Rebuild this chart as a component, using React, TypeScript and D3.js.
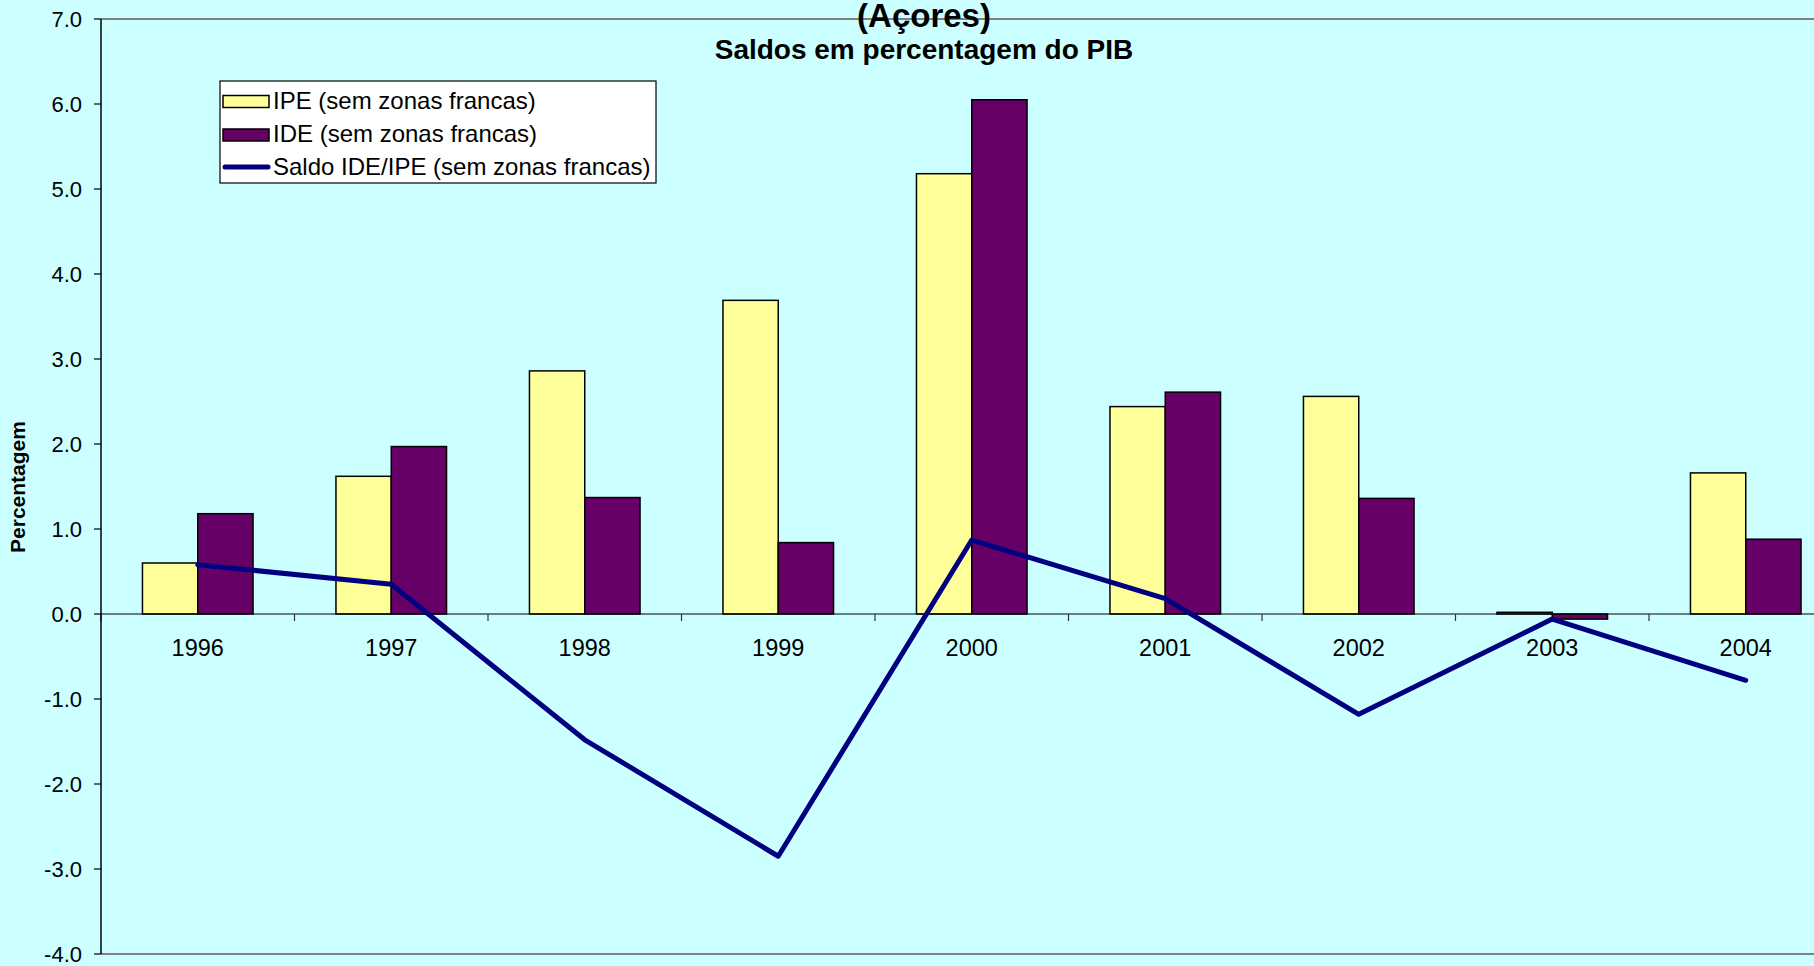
import React from "react";
import * as d3 from "d3";

const years = ["1996", "1997", "1998", "1999", "2000", "2001", "2002", "2003", "2004"];
const ipe = [0.6, 1.62, 2.86, 3.69, 5.18, 2.44, 2.56, 0.02, 1.66];
const ide = [1.18, 1.97, 1.37, 0.84, 6.05, 2.61, 1.36, -0.06, 0.88];
const saldo = [0.58, 0.35, -1.48, -2.85, 0.87, 0.18, -1.18, -0.06, -0.78];
const yTicks = [7, 6, 5, 4, 3, 2, 1, 0, -1, -2, -3, -4];
const seriesNames = ["IPE (sem zonas francas)", "IDE (sem zonas francas)", "Saldo IDE/IPE (sem zonas francas)"];
const titleLine = "(Açores)";
const subtitle = "Saldos em percentagem do PIB";
const yTitle = "Percentagem";

const W = 1814;
const H = 966;
const BG = "#CCFFFF";
const C_IPE = "#FFFF99";
const C_IDE = "#660066";
const C_LINE = "#000080";
const FONT = "'Liberation Sans', Arial, sans-serif";

export default function App() {
  const left = 101;
  const catW = 193.5;
  const x = d3.scaleBand<string>().domain(years).range([left, left + catW * years.length]).padding(0);
  const inner = d3
    .scaleBand<string>()
    .domain(["ipe", "ide"])
    .range([0, x.bandwidth()])
    .paddingInner(0)
    .paddingOuter(0.75);
  const y = d3.scaleLinear().domain([-4, 7]).range([954, 19]);
  const y0 = y(0);

  const line = d3
    .line<number>()
    .x((_, i) => (x(years[i]) as number) + x.bandwidth() / 2)
    .y((d) => y(d));

  const bar = (v: number, i: number, key: string, fill: string) => {
    const bx = (x(years[i]) as number) + (inner(key) as number);
    const top = Math.min(y(v), y0);
    const h = Math.abs(y(v) - y0);
    return (
      <rect
        key={key + i}
        x={bx}
        y={top}
        width={inner.bandwidth()}
        height={Math.max(h, 0.5)}
        fill={fill}
        stroke="#000"
        strokeWidth={1.5}
      />
    );
  };

  const right = left + catW * years.length;
  const rowY = [108.5, 142, 175];

  return (
    <div style={{ position: "absolute", left: 0, top: 0 }}>
      <svg width={W} height={H} style={{ display: "block" }} fontFamily={FONT}>
        <rect x={0} y={0} width={W} height={H} fill={BG} />
        {/* plot area border */}
        <line x1={left} x2={right} y1={y(7)} y2={y(7)} stroke="#808080" strokeWidth={2} />
        <line x1={left} x2={right} y1={y(-4)} y2={y(-4)} stroke="#808080" strokeWidth={2} />

        {/* bars */}
        {ipe.map((v, i) => bar(v, i, "ipe", C_IPE))}
        {ide.map((v, i) => bar(v, i, "ide", C_IDE))}

        {/* x axis at zero */}
        <line x1={left} x2={right} y1={y0} y2={y0} stroke="#000" strokeWidth={1.2} />
        {years.map((yr, i) => (
          <line
            key={"xt" + i}
            x1={x(yr) as number}
            x2={x(yr) as number}
            y1={y0}
            y2={y0 + 7}
            stroke="#333"
            strokeWidth={1.2}
          />
        ))}
        <line x1={right} x2={right} y1={y0} y2={y0 + 7} stroke="#333" strokeWidth={1.2} />
        {years.map((yr) => (
          <text
            key={"xl" + yr}
            x={(x(yr) as number) + x.bandwidth() / 2}
            y={656}
            textAnchor="middle"
            fontSize={23.5}
            fill="#000"
          >
            {yr}
          </text>
        ))}

        {/* y axis */}
        <line x1={left} x2={left} y1={y(7)} y2={y(-4)} stroke="#000" strokeWidth={1.5} />
        {yTicks.map((t) => (
          <g key={"yt" + t}>
            <line x1={left - 7} x2={left} y1={y(t)} y2={y(t)} stroke="#000" strokeWidth={1.2} />
            <text x={82} y={y(t) + 8} textAnchor="end" fontSize={22} fill="#000">
              {t.toFixed(1)}
            </text>
          </g>
        ))}
        <text
          transform={`translate(25,487) rotate(-90)`}
          textAnchor="middle"
          fontSize={21}
          fontWeight="bold"
          fill="#000"
        >
          {yTitle}
        </text>

        {/* line series */}
        <path
          d={line(saldo) || ""}
          fill="none"
          stroke={C_LINE}
          strokeWidth={5}
          strokeLinejoin="round"
          strokeLinecap="round"
        />

        {/* titles */}
        <text x={924} y={27} textAnchor="middle" fontSize={33} fontWeight="bold" fill="#000">
          {titleLine}
        </text>
        <text x={924} y={59} textAnchor="middle" fontSize={28} fontWeight="bold" fill="#000">
          {subtitle}
        </text>

        {/* legend */}
        <rect x={220} y={81} width={436} height={102} fill="#fff" stroke="#000" strokeWidth={1.2} />
        <rect x={223} y={rowY[0] - 13} width={46} height={12} fill={C_IPE} stroke="#000" strokeWidth={1.5} />
        <rect x={223} y={rowY[1] - 13} width={46} height={12} fill={C_IDE} stroke="#000" strokeWidth={1.5} />
        <line x1={225} x2={268} y1={rowY[2] - 8} y2={rowY[2] - 8} stroke={C_LINE} strokeWidth={5} strokeLinecap="round" />
        {seriesNames.map((s, i) => (
          <text key={s} x={273} y={rowY[i]} fontSize={24} fill="#000">
            {s}
          </text>
        ))}
      </svg>
    </div>
  );
}
